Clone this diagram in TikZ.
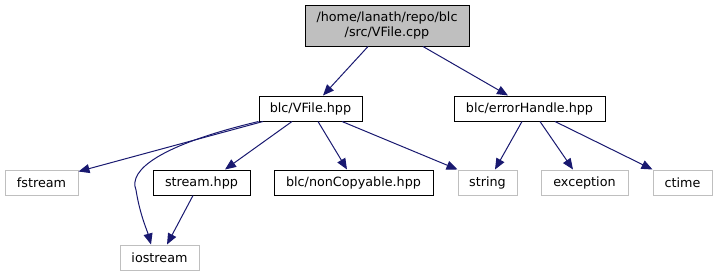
\documentclass[tikz,border=0pt]{standalone}
\usepackage{fontspec}
\setmainfont{DejaVu Sans}
\usetikzlibrary{arrows.meta,positioning}

\definecolor{edgeblue}{HTML}{191970}
\definecolor{extgray}{HTML}{BFBFBF}

\begin{document}
\begin{tikzpicture}[x=1pt,y=-1pt,
				box/.style={draw=black,fill=white,line width=1pt,minimum height=25pt,inner sep=0pt,font=\fontsize{12.75}{15}\selectfont},
				top/.style={box,fill=extgray,align=center,minimum height=41pt},
				ext/.style={box,draw=extgray},
				inc/.style={-{Triangle[length=11pt,width=9pt]},edgeblue,line width=1pt}
				]
				\useasboundingbox (0,0) rectangle (717,276);
				\node[top] (root) at (387,25.5) [minimum width=164pt] {/home/lanath/repo/blc\\/src/VFile.cpp};
				
				\node[box] (vfile) at (310.5,108.5) [minimum width=103pt] {blc/VFile.hpp};
				\node[box] (errh) at (529.5,108.5) [minimum width=151pt] {blc/errorHandle.hpp};
				
				\node[ext] (fstream) at (41.5,182.5) [minimum width=73pt] {fstream};
				\node[box] (stream) at (201.5,182.5) [minimum width=97pt] {stream.hpp};
				\node[box] (noncopy) at (353.5,182.5) [minimum width=159pt] {blc/nonCopyable.hpp};
				\node[ext] (string) at (487.5,182.5) [minimum width=59pt] {string};
				\node[ext] (exception) at (584.5,182.5) [minimum width=87pt] {exception};
				\node[ext] (ctime) at (682.5,182.5) [minimum width=59pt] {ctime};
				\node[ext] (iostream) at (159.5,257.5) [minimum width=79pt] {iostream};
				
				\draw[inc] ([xshift=-19pt]root.south) -- ([xshift=12.5pt]vfile.north);
				\draw[inc] ([xshift=36pt]root.south) -- ([xshift=-21.5pt]errh.north);
				
				\draw[inc] ([xshift=-47.5pt]vfile.south) -- ([yshift=-2pt]fstream.north east);
				\draw[inc] (vfile.south west) .. controls (160,145) and (128,170) .. (136,190)
					.. controls (140,215) and (147,230) .. ([xshift=-8.5pt]iostream.north);
				\draw[inc] ([xshift=-18.5pt]vfile.south) -- ([xshift=23.5pt]stream.north);
				\draw[inc] ([xshift=7.5pt]vfile.south) -- ([xshift=-6.5pt]noncopy.north);
				\draw[inc] ([xshift=31.5pt]vfile.south) -- (string.north west);
				
				\draw[inc] ([xshift=-7.5pt]errh.south) -- ([xshift=7.5pt]string.north);
				\draw[inc] ([xshift=10.5pt]errh.south) -- ([xshift=-11.5pt]exception.north);
				\draw[inc] ([xshift=25.5pt]errh.south) -- (ctime.north west);
				
				\draw[inc] ([xshift=-8.5pt]stream.south) -- ([xshift=7.5pt]iostream.north);
			\end{tikzpicture}
\end{document}
